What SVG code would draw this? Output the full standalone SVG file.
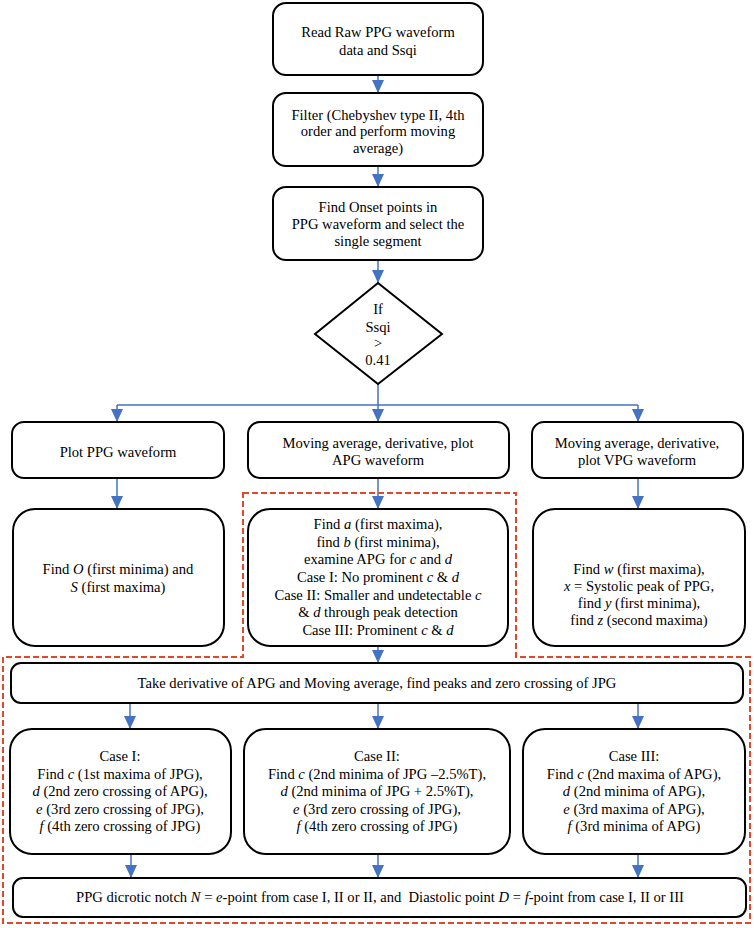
<svg xmlns="http://www.w3.org/2000/svg" width="754" height="928" viewBox="0 0 754 928">
<defs>
<marker id="ah" viewBox="0 0 13 12" refX="13" refY="6" markerWidth="13" markerHeight="12" markerUnits="userSpaceOnUse" orient="auto">
<path d="M0,0 L13,6 L0,12 Z" fill="#4472C4"/>
</marker>
<style>
.box{fill:#fff;stroke:#000;stroke-width:2}
.t{font-family:"Liberation Serif","Times New Roman",serif;font-size:14.6px;fill:#000;text-anchor:middle}
.i{font-style:italic}
.c{fill:none;stroke:#4472C4;stroke-width:1.5}
.ca{fill:none;stroke:#4472C4;stroke-width:1.5;marker-end:url(#ah)}
</style>
</defs>
<rect width="754" height="928" fill="#fff"/>

<g id="connectors">
<path class="ca" d="M378,75 V93"/>
<path class="ca" d="M378,166 V187"/>
<path class="ca" d="M378,260 V283"/>
<path class="c" d="M378,384 V405 M117,405 H638"/>
<path class="ca" d="M117,405 V422"/>
<path class="ca" d="M378,405 V422"/>
<path class="ca" d="M638,405 V422"/>
<path class="ca" d="M117,478 V509"/>
<path class="ca" d="M378,478 V509"/>
<path class="ca" d="M638,478 V509"/>
<path class="ca" d="M378,646 V663"/>
<path class="ca" d="M130,703 V729"/>
<path class="ca" d="M378,703 V729"/>
<path class="ca" d="M638,703 V729"/>
<path class="ca" d="M131,854 V878"/>
<path class="ca" d="M378,854 V878"/>
<path class="ca" d="M638,854 V878"/>
</g>

<g id="dashed-region">
<path d="M243,493 H516 V657 H750 V923 H3 V657 H243 Z" fill="none" stroke="#E0482A" stroke-width="2" stroke-dasharray="6,3"/>
</g>

<g id="n1">
<rect class="box" x="273" y="3" width="210" height="72" rx="13"/>
<text class="t" x="378" y="37">Read Raw PPG waveform</text>
<text class="t" x="378" y="55">data and Ssqi</text>
</g>

<g id="n2">
<rect class="box" x="273" y="93" width="210" height="73" rx="13"/>
<text class="t" x="378" y="120">Filter (Chebyshev type II, 4th</text>
<text class="t" x="378" y="136">order and perform moving</text>
<text class="t" x="378" y="153">average)</text>
</g>

<g id="n3">
<rect class="box" x="273" y="187" width="210" height="73" rx="13"/>
<text class="t" x="378" y="212">Find Onset points in</text>
<text class="t" x="378" y="229">PPG waveform and select the</text>
<text class="t" x="378" y="246">single segment</text>
</g>

<g id="decision">
<path d="M378,283 L442,334 L378,384 L315,334 Z" fill="#fff" stroke="#000" stroke-width="2"/>
<text class="t" x="378" y="314">If</text>
<text class="t" x="378" y="332">Ssqi</text>
<text class="t" x="378" y="348">&gt;</text>
<text class="t" x="378" y="365">0.41</text>
</g>

<g id="plot-ppg">
<rect class="box" x="12" y="422" width="212" height="56" rx="12"/>
<text class="t" x="118" y="457">Plot PPG waveform</text>
</g>

<g id="plot-apg">
<rect class="box" x="248" y="422" width="261" height="56" rx="12"/>
<text class="t" x="378" y="448">Moving average, derivative, plot</text>
<text class="t" x="378" y="465">APG waveform</text>
</g>

<g id="plot-vpg">
<rect class="box" x="532" y="422" width="211" height="56" rx="12"/>
<text class="t" x="637" y="448">Moving average, derivative,</text>
<text class="t" x="637" y="465">plot VPG waveform</text>
</g>

<g id="find-os">
<rect class="box" x="13" y="509" width="211" height="137" rx="22"/>
<text class="t" x="118" y="574">Find <tspan class="i">O</tspan> (first minima) and</text>
<text class="t" x="118" y="592"><tspan class="i">S</tspan> (first maxima)</text>
</g>

<g id="find-ab">
<rect class="box" x="248" y="509" width="260" height="137" rx="22"/>
<text class="t" x="378" y="529">Find <tspan class="i">a</tspan> (first maxima),</text>
<text class="t" x="378" y="547">find <tspan class="i">b</tspan> (first minima),</text>
<text class="t" x="378" y="564">examine APG for <tspan class="i">c</tspan> and <tspan class="i">d</tspan></text>
<text class="t" x="378" y="582">Case I: No prominent <tspan class="i">c</tspan> &amp; <tspan class="i">d</tspan></text>
<text class="t" x="378" y="600">Case II: Smaller and undetectable <tspan class="i">c</tspan></text>
<text class="t" x="378" y="617">&amp; <tspan class="i">d</tspan> through peak detection</text>
<text class="t" x="378" y="635">Case III: Prominent <tspan class="i">c</tspan> &amp; <tspan class="i">d</tspan></text>
</g>

<g id="find-wxyz">
<rect class="box" x="533" y="509" width="212" height="137" rx="22"/>
<text class="t" x="639" y="574">Find <tspan class="i">w</tspan> (first maxima),</text>
<text class="t" x="639" y="591"><tspan class="i">x</tspan> = Systolic peak of PPG,</text>
<text class="t" x="639" y="608">find <tspan class="i">y</tspan> (first minima),</text>
<text class="t" x="639" y="625">find <tspan class="i">z</tspan> (second maxima)</text>
</g>

<g id="jpg">
<rect class="box" x="11" y="663" width="732" height="40" rx="10"/>
<text class="t" x="377" y="688">Take derivative of APG and Moving average, find peaks and zero crossing of JPG</text>
</g>

<g id="case1">
<rect class="box" x="10" y="729" width="221" height="125" rx="22"/>
<text class="t" x="120" y="761">Case I:</text>
<text class="t" x="120" y="779">Find <tspan class="i">c</tspan> (1st maxima of JPG),</text>
<text class="t" x="120" y="796"><tspan class="i">d</tspan> (2nd zero crossing of APG),</text>
<text class="t" x="120" y="814"><tspan class="i">e</tspan> (3rd zero crossing of JPG),</text>
<text class="t" x="120" y="831"><tspan class="i">f</tspan> (4th zero crossing of JPG)</text>
</g>

<g id="case2">
<rect class="box" x="244" y="729" width="266" height="125" rx="22"/>
<text class="t" x="377" y="761">Case II:</text>
<text class="t" x="377" y="779">Find <tspan class="i">c</tspan> (2nd minima of JPG –2.5%T),</text>
<text class="t" x="377" y="796"><tspan class="i">d</tspan> (2nd minima of JPG + 2.5%T),</text>
<text class="t" x="377" y="814"><tspan class="i">e</tspan> (3rd zero crossing of JPG),</text>
<text class="t" x="377" y="831"><tspan class="i">f</tspan> (4th zero crossing of JPG)</text>
</g>

<g id="case3">
<rect class="box" x="523" y="729" width="222" height="125" rx="22"/>
<text class="t" x="634" y="761">Case III:</text>
<text class="t" x="634" y="779">Find <tspan class="i">c</tspan> (2nd maxima of APG),</text>
<text class="t" x="634" y="796"><tspan class="i">d</tspan> (2nd minima of APG),</text>
<text class="t" x="634" y="814"><tspan class="i">e</tspan> (3rd maxima of APG),</text>
<text class="t" x="634" y="831"><tspan class="i">f</tspan> (3rd minima of APG)</text>
</g>

<g id="result">
<rect class="box" x="13" y="878" width="733" height="39" rx="10"/>
<text class="t" x="380" y="902" xml:space="preserve">PPG dicrotic notch <tspan class="i">N</tspan> = <tspan class="i">e</tspan>-point from case I, II or II, and  Diastolic point <tspan class="i">D</tspan> = <tspan class="i">f</tspan>-point from case I, II or III</text>
</g>
</svg>
